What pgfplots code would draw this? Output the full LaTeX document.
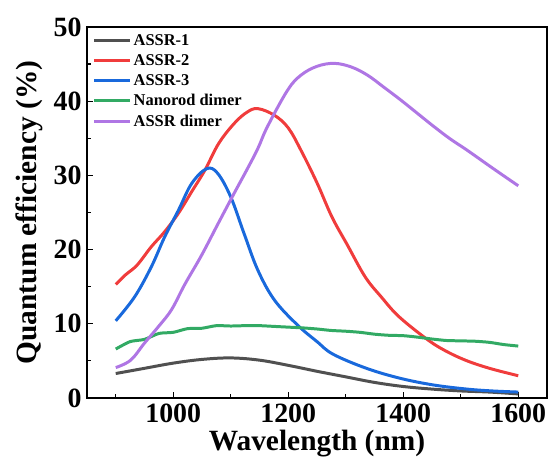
\documentclass[border=0pt]{standalone}
\usepackage{pgfplots}
\pgfplotsset{compat=1.18}
\usepackage{fontspec}
\setmainfont{Liberation Serif}
\definecolor{cgray}{RGB}{80,80,80}
\definecolor{cred}{RGB}{240,60,60}
\definecolor{cblue}{RGB}{25,105,220}
\definecolor{cgreen}{RGB}{50,170,100}
\definecolor{cpurple}{RGB}{175,118,228}
\begin{document}
\begin{tikzpicture}
\useasboundingbox (0,0) rectangle (549bp,459bp);
\begin{axis}[
  at={(87bp,61bp)}, anchor=south west,
  scale only axis, width=460bp, height=371bp,
  xmin=850, xmax=1650, ymin=0, ymax=50,
  xtick={1000,1200,1400,1600}, minor xtick={900,1100,1300,1500},
  ytick={0,10,20,30,40,50}, minor ytick={5,15,25,35,45},
  xtick pos=bottom, ytick pos=left,
  tick align=inside,
  major tick length=6bp, minor tick length=4bp,
  every tick/.style={black, line width=1.2pt},
  axis line style={line width=1.4pt},
  /pgf/number format/assume math mode=true,
  /pgf/number format/1000 sep={},
  tick label style={font=\fontsize{28}{28}\selectfont\bfseries},
  xticklabel style={yshift=-2bp},
  yticklabel style={xshift=-2bp},
  label style={font=\fontsize{29.5}{29.5}\selectfont\bfseries},
  xlabel={Wavelength (nm)},
  ylabel={Quantum efficiency (\%)},
  xlabel style={yshift=-1bp},
  ylabel style={yshift=4bp},
  legend style={draw=none, fill=none, at={(0.012,0.985)}, anchor=north west,
    font=\fontsize{16.5}{16.5}\selectfont\bfseries, row sep=3.5bp, inner sep=0pt},
  legend cell align=left,
  legend image code/.code={\draw[#1] (0bp,0bp) -- (36bp,0bp);},
  every axis plot/.append style={line width=3pt, smooth, tension=0.6},
]
\addplot[cgray] coordinates {
(900,3.3) (950,4.0) (1000,4.7) (1050,5.2) (1100,5.4) (1150,5.1) (1200,4.4)
(1250,3.6) (1300,2.85) (1350,2.1) (1400,1.55) (1450,1.2) (1500,0.95) (1550,0.8) (1600,0.55)};
\addlegendentry{ASSR-1}
\addplot[cred] coordinates {
(900,15.3) (917,16.6) (937,17.9) (962,20.4) (985,22.4) (1009,24.9) (1032,27.8)
(1055,30.7) (1079,34.3) (1106,37.0) (1128,38.5) (1147,39.0) (1176,38.1) (1200,36.4)
(1222,33.4) (1250,29.0) (1276,24.4) (1303,20.6) (1334,16.3) (1362,13.6) (1392,11.0)
(1439,8.05) (1470,6.5) (1508,5.1) (1550,4.0) (1600,3.0)};
\addlegendentry{ASSR-2}
\addplot[cblue] coordinates {
(900,10.4) (933,13.65) (962,17.7) (985,21.7) (1009,25.3) (1032,28.9) (1058,30.9)
(1077,30.3) (1100,27.1) (1123,22.2) (1147,17.25) (1176,13.2) (1216,9.84) (1250,7.6)
(1278,5.9) (1336,4.0) (1395,2.65) (1453,1.75) (1511,1.2) (1555,0.95) (1600,0.8)};
\addlegendentry{ASSR-3}
\addplot[cgreen, tension=0.4] coordinates {
(900,6.6) (925,7.6) (950,7.9) (975,8.7) (1000,8.85) (1025,9.35) (1050,9.4) (1075,9.75)
(1100,9.7) (1125,9.75) (1150,9.75) (1175,9.65) (1200,9.55) (1225,9.45) (1250,9.3)
(1275,9.1) (1300,9.0) (1325,8.85) (1350,8.6) (1375,8.45) (1400,8.4) (1425,8.2)
(1450,7.95) (1475,7.75) (1500,7.7) (1525,7.65) (1550,7.5) (1575,7.2) (1600,7.0)};
\addlegendentry{Nanorod dimer}
\addplot[cpurple] coordinates {
(900,4.1) (926,5.1) (950,7.4) (974,9.6) (997,11.9) (1020,15.3) (1049,19.2) (1078,23.5)
(1106,27.6) (1129,30.9) (1147,33.6) (1164,36.6) (1199,41.5) (1222,43.5) (1250,44.7)
(1280,45.1) (1310,44.6) (1338,43.5) (1366,41.9) (1395,40.2) (1424,38.4) (1453,36.6)
(1482,34.9) (1511,33.4) (1555,31.0) (1600,28.6)};
\addlegendentry{ASSR dimer}
\end{axis}
\end{tikzpicture}
\end{document}
